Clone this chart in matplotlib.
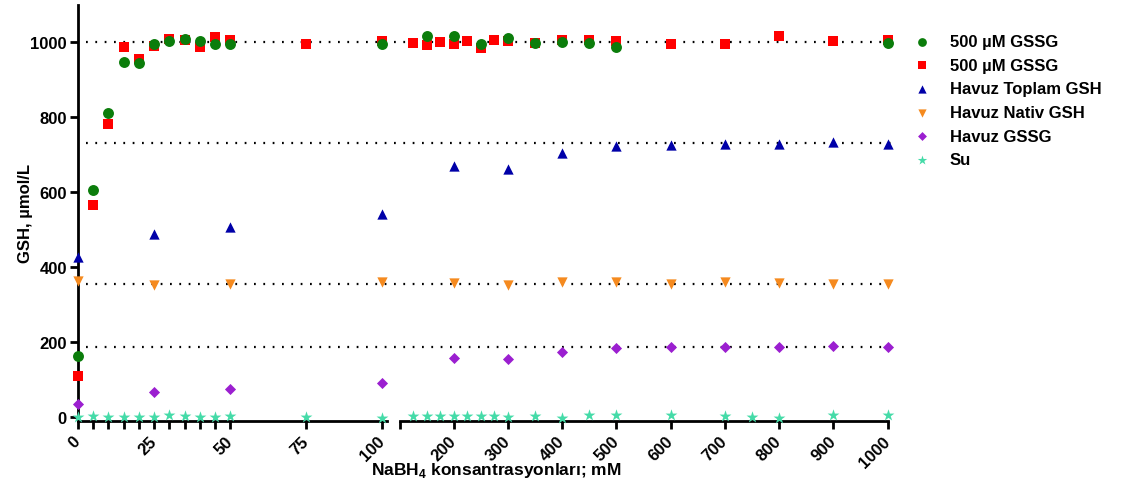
import numpy as np
import matplotlib
matplotlib.use("Agg")
import matplotlib.pyplot as plt
from matplotlib.transforms import blended_transform_factory

plt.rcParams['font.family'] = ['Liberation Sans', 'DejaVu Sans']
plt.rcParams['font.weight'] = 'bold'
plt.rcParams['mathtext.fontset'] = 'custom'
plt.rcParams['mathtext.rm'] = 'Liberation Sans:bold'
plt.rcParams['mathtext.bf'] = 'Liberation Sans:bold'

# ---- data ----
x_gssg1 = [0, 5, 10, 15, 20, 25, 30, 35, 40, 45, 50, 100, 150, 200, 250, 300, 350, 400, 450, 500, 1000]
y_gssg1 = [162, 606, 811, 948, 944, 996, 1002, 1009, 1004, 996, 996, 994, 1015, 1015, 994, 1010, 997, 1001, 997, 988, 997]

x_gssg2 = [0, 5, 10, 15, 20, 25, 30, 35, 40, 45, 50, 75, 100, 125, 150, 175, 200, 225, 250, 275, 300,
           350, 400, 450, 500, 600, 700, 800, 900, 1000]
y_gssg2 = [109, 565, 781, 986, 955, 990, 1009, 1006, 988, 1014, 1006, 996, 1004, 997, 991, 1001, 994, 1004, 985, 1005, 1003,
           997, 1005, 1005, 1003, 994, 994, 1015, 1004, 1005]

x_pool = [0, 25, 50, 100, 200, 300, 400, 500, 600, 700, 800, 900, 1000]
y_total = [427, 488, 507, 541, 669, 662, 705, 723, 726, 729, 728, 733, 729]
y_native = [362, 352, 356, 359, 357, 353, 359, 359, 355, 359, 357, 354, 356]
y_pool_gssg = [35, 68, 76, 91, 157, 156, 173, 183, 187, 187, 187, 190, 188]

x_water = [0, 5, 10, 15, 20, 25, 30, 35, 40, 45, 50, 75, 100, 125, 150, 175, 200, 225, 250, 275, 300,
           350, 400, 450, 500, 600, 700, 750, 800, 900, 1000]
y_water = [0, 3, 1, 1, 1, 0, 5, 2, -1, 1, 2, 0, -2, 2, 2, 4, 4, 4, 3, 3, 0,
           4, -3, 5, 5, 5, 3, 1, -3, 5, 6]

ref_lines = [1000, 731, 355, 188]

left_ticks = [0, 5, 10, 15, 20, 25, 30, 35, 40, 45, 50, 75, 100]
left_labels = ['0', '', '', '', '', '25', '', '', '', '', '50', '75', '100']
right_ticks = [100, 200, 300, 400, 500, 600, 700, 800, 900, 1000]
right_labels = ['', '200', '300', '400', '500', '600', '700', '800', '900', '1000']

series = [
    ("500 µM GSSG", x_gssg1, y_gssg1, 'o', '#0b7d0b', 62, 5),
    ("500 µM GSSG", x_gssg2, y_gssg2, 's', '#ff0000', 62, 4),
    ("Havuz Toplam GSH", x_pool, y_total, '^', '#0000a8', 55, 4),
    ("Havuz Nativ GSH", x_pool, y_native, 'v', '#f58a1f', 55, 4),
    ("Havuz GSSG", x_pool, y_pool_gssg, 'D', '#9b1fd0', 32, 4),
    ("Su", x_water, y_water, '*', '#45dba8', 80, 4),
]

fig = plt.figure(figsize=(11.31, 4.89), dpi=100)
ax1 = fig.add_axes([78 / 1131, 1 - 421.75 / 489, 309 / 1131, 416.25 / 489])
ax2 = fig.add_axes([399.5 / 1131, 1 - 421.75 / 489, 488 / 1131, 416.25 / 489])
ax1.patch.set_visible(False)
ax2.patch.set_visible(False)

handles = []
for name, xs, ys, mk, col, s, z in series:
    xs = np.array(xs)
    ys = np.array(ys)
    m1 = xs <= 100
    m2 = xs > 100
    h = ax1.scatter(xs[m1], ys[m1], marker=mk, s=s, c=col, linewidths=0, zorder=z, clip_on=False, label=name)
    ax2.scatter(xs[m2], ys[m2], marker=mk, s=s, c=col, linewidths=0, zorder=z, clip_on=False)
    handles.append(h)

# dotted reference lines across both panels
tr = blended_transform_factory(fig.transFigure, ax1.transData)
for yv in ref_lines:
    ax1.plot([86 / 1131, 895 / 1131], [yv, yv], transform=tr, color='black', lw=1.6,
             linestyle=(0, (0.8, 3.4)), clip_on=False, zorder=2)

for ax in (ax1, ax2):
    ax.set_ylim(-10, 1100)
    for sp in ['top', 'right']:
        ax.spines[sp].set_visible(False)
    ax.spines['bottom'].set_linewidth(2)
    ax.spines['left'].set_linewidth(2)
    ax.tick_params(axis='both', width=2, length=6, labelsize=12, pad=2)

ax1.set_xlim(0, 101.5)
ax2.set_xlim(100, 1000)
ax2.spines['left'].set_visible(False)
ax2.set_yticks([])

ax1.set_yticks([0, 200, 400, 600, 800, 1000])
ax1.set_xticks(left_ticks)
ax1.set_xticklabels(left_labels, rotation=45, ha='right', va='center', rotation_mode='anchor')
ax2.set_xticks(right_ticks)
ax2.set_xticklabels(right_labels, rotation=45, ha='right', va='center', rotation_mode='anchor')
for ax in (ax1, ax2):
    for lab in ax.get_xticklabels():
        lab.set_fontweight('bold')
    for lab in ax.get_yticklabels():
        lab.set_fontweight('bold')
ax1.tick_params(axis='x', pad=7)
ax2.tick_params(axis='x', pad=7)

ax1.set_ylabel("GSH, µmol/L", fontsize=12, fontweight='bold')
ax1.yaxis.set_label_coords(-0.145, 0.5)
fig.text(496 / 1131, 1 - 471 / 489, r"NaBH$_\mathbf{4}$ konsantrasyonları; mM",
         ha='center', va='center', fontsize=12.5, fontweight='bold')

fig.legend(handles=handles, loc='upper left', bbox_to_anchor=(890 / 1131, 1 - 20 / 489),
           frameon=False, handletextpad=0.7, labelspacing=0.52,
           prop={'weight': 'bold', 'size': 12}, scatterpoints=1, markerscale=0.8)

fig.savefig("out.png", dpi=100)
